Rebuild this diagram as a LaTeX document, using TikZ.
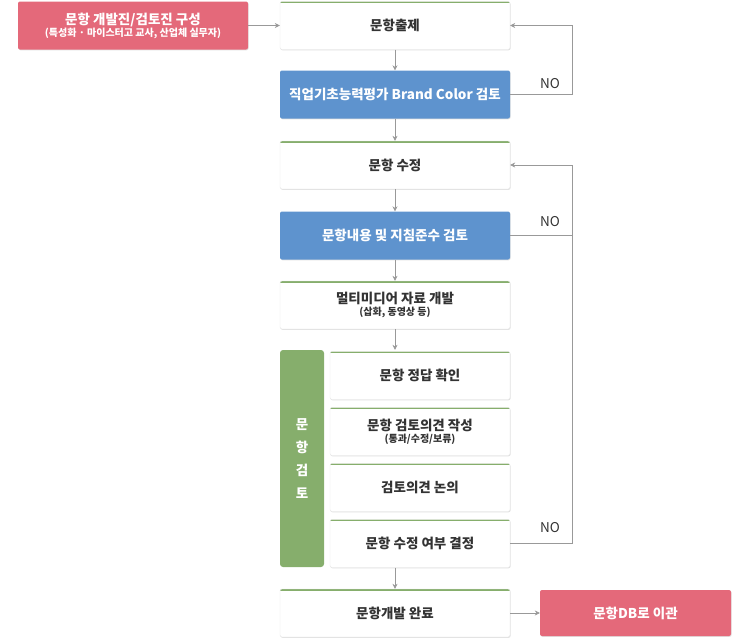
\documentclass[tikz,border=0pt]{standalone}
\usepackage{fontspec}
\setmainfont{Noto Sans CJK KR}
\usetikzlibrary{arrows.meta,shadows}
\definecolor{pinkc}{HTML}{E4697A}
\definecolor{bluec}{HTML}{5E93CE}
\definecolor{greenc}{HTML}{86AE6C}
\definecolor{txt}{HTML}{333333}
\definecolor{linec}{HTML}{999999}
\newcommand\smtxt{\fontsize{10pt}{11pt}\selectfont}
\tikzset{
 base/.style={rounded corners=2pt,minimum width=230pt,minimum height=48pt,inner sep=0pt,align=center,font=\fontsize{13.5pt}{15pt}\selectfont\bfseries},
 wbox/.style={base,fill=white,draw=black!10,text=txt,drop shadow={shadow xshift=0.6pt,shadow yshift=-0.8pt,opacity=0.25},
   path picture={\draw[greenc,line width=3pt] (path picture bounding box.north west)--(path picture bounding box.north east);}},
 bbox/.style={base,fill=bluec,text=white,drop shadow={shadow xshift=0.6pt,shadow yshift=-0.8pt,opacity=0.25}},
 pbox/.style={base,fill=pinkc,text=white,drop shadow={shadow xshift=0.6pt,shadow yshift=-0.8pt,opacity=0.25}},
 sbox/.style={wbox,minimum width=180pt,minimum height=48pt},
 arr/.style={linec,line width=0.6pt,-{Stealth[length=5pt,width=5pt]}},
 ln/.style={linec,line width=0.6pt},
 nolab/.style={text=txt,font=\fontsize{13.5pt}{15pt}\selectfont}
}
\begin{document}
\begin{tikzpicture}[x=1pt,y=-1pt]
\useasboundingbox (0,0) rectangle (753,640);
\node[pbox] (p1) at (133,25.5) {문항 개발진/검토진 구성\\[-3pt]{\smtxt (특성화 · 마이스터고 교사, 산업체 실무자)}};
\node[wbox] (b1) at (395,25.5) {문항출제};
\node[bbox] (b2) at (395,94.5) {직업기초능력평가 Brand Color 검토};
\node[wbox] (b3) at (395,165) {문항 수정};
\node[bbox] (b4) at (395,235.5) {문항내용 및 지침준수 검토};
\node[wbox] (b5) at (395,305) {멀티미디어 자료 개발\\[-3pt]{\smtxt (삽화, 동영상 등)}};
\node[base,fill=greenc,text=white,minimum width=44pt,minimum height=217pt,rounded corners=3pt] (g) at (302,458.5) {문\\[8pt]항\\[8pt]검\\[8pt]토};
\node[sbox] (s1) at (420,375.5) {문항 정답 확인};
\node[sbox] (s2) at (420,431.5) {문항 검토의견 작성\\[-3pt]{\smtxt (통과/수정/보류)}};
\node[sbox] (s3) at (420,487.5) {검토의견 논의};
\node[sbox] (s4) at (420,543.5) {문항 수정 여부 결정};
\node[wbox] (b6) at (395,613) {문항개발 완료};
\node[pbox,minimum width=191pt,minimum height=46pt] (db) at (635.5,613) {문항DB로 이관};
\draw[arr] (p1.east) -- (b1.west);
\draw[arr] (b1) -- (b2);
\draw[arr] (b2) -- (b3);
\draw[arr] (b3) -- (b4);
\draw[arr] (b4) -- (b5);
\draw[arr] (b5.south) -- (b5.south|-g.north);
\draw[arr] (b6.north|-s4.south) -- (b6.north);
\draw[arr] (b6.east) -- (db.west);
\coordinate (r1) at (572,94.5);
\coordinate (r2) at (572,235.5);
\draw[arr] (b2.east) -- (r1) |- (b1.east);
\draw[arr] (b4.east) -- (r2) |- (b3.east);
\draw[ln] (s4.east) -| (r2);
\node[nolab] (n1) at (550,84) {NO};
\node[nolab] (n2) at (550,222) {NO};
\node[nolab] (n3) at (550,528) {NO};
\end{tikzpicture}
\end{document}
